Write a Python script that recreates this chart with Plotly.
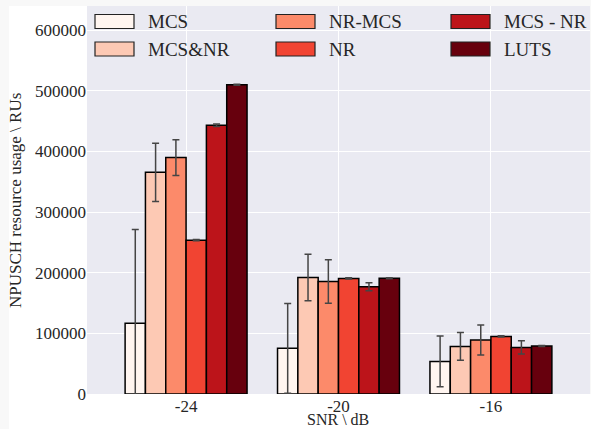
import plotly.graph_objects as go

categories = ["-24", "-20", "-16"]
series_names = ["MCS", "MCS&NR", "NR-MCS", "NR", "MCS - NR", "LUTS"]
colors = ["#fff5f0", "#fdc9b4", "#fc8a6a", "#f14432", "#bc141a", "#67000d"]

mcs = [116500, 75300, 53800]
mcs_nr = [365700, 192200, 78500]
nr_mcs = [390000, 185600, 89000]
nr = [253700, 190600, 95000]
mcs_minus_nr = [443200, 176800, 76900]
luts = [510200, 191100, 79100]

mcs_err = [155000, 74000, 42000]
mcs_nr_err = [48000, 38500, 23000]
nr_mcs_err = [29500, 36000, 24700]
nr_err = [1000, 1000, 1000]
mcs_minus_nr_err = [2000, 6600, 11000]
luts_err = [800, 800, 800]

y_ticks = [0, 100000, 200000, 300000, 400000, 500000, 600000]
y_ticklabels = ["0", "100000", "200000", "300000", "400000", "500000", "600000"]
x_title = "SNR \\ dB"
y_title = "NPUSCH resource usage \\ RUs"

values = [mcs, mcs_nr, nr_mcs, nr, mcs_minus_nr, luts]
errors = [mcs_err, mcs_nr_err, nr_mcs_err, nr_err, mcs_minus_nr_err, luts_err]

FONT = "Liberation Serif"
TXT = "#262626"

fig = go.Figure()
for name, col, v, e in zip(series_names, colors, values, errors):
    fig.add_trace(go.Bar(
        x=categories, y=v, name=name,
        marker=dict(color=col, line=dict(color="black", width=1.5)),
        error_y=dict(type="data", array=e, color="#454545", thickness=1.5, width=3.5),
        showlegend=False,
    ))

W, H = 591, 429
L, R, T, B = 87, 1, 6, 35
pw, ph = W - L - R, H - T - B

def px2paper(x, y):
    return (x - L) / pw, (H - B - y) / ph

shapes = []
annotations = []

# white figure area (reference has a light grey strip at left/top edges)
for (ax0, ay0, ax1, ay1) in [(9, 6, L, H), (9, H - B, W, H)]:
    x0p, y0p = px2paper(ax0, ay0)
    x1p, y1p = px2paper(ax1, ay1)
    shapes.append(dict(type="rect", xref="paper", yref="paper", x0=x0p, x1=x1p, y0=y1p, y1=y0p,
                       fillcolor="white", line=dict(width=0), layer="below"))

# custom legend (matplotlib-like wide patches), 3 columns x 2 rows
leg_order = [0, 2, 4, 1, 3, 5]
col_patch_x = [95, 276, 451]
row_y = [21.5, 49]
for i, idx in enumerate(leg_order):
    r, c = divmod(i, 3)
    x0p, y0p = px2paper(col_patch_x[c], row_y[r] - 7)
    x1p, y1p = px2paper(col_patch_x[c] + 39, row_y[r] + 7)
    shapes.append(dict(type="rect", xref="paper", yref="paper", x0=x0p, x1=x1p, y0=y1p, y1=y0p,
                       fillcolor=colors[idx], line=dict(color="#222222", width=1.2)))
    tx, ty = px2paper(col_patch_x[c] + 51, row_y[r])
    annotations.append(dict(xref="paper", yref="paper", x=tx, y=ty, xanchor="left", yanchor="middle",
                            text=series_names[idx], showarrow=False,
                            font=dict(family=FONT, size=19, color=TXT)))

# axis titles
tx, ty = px2paper(338, 429)
annotations.append(dict(xref="paper", yref="paper", x=tx, y=ty, xanchor="center", yanchor="bottom",
                        text=x_title, showarrow=False, borderpad=0,
                        font=dict(family=FONT, size=16, color=TXT)))
tx, ty = px2paper(15, 201)
annotations.append(dict(xref="paper", yref="paper", x=tx, y=ty, xanchor="center", yanchor="middle",
                        text=y_title, textangle=-90, showarrow=False,
                        font=dict(family=FONT, size=17, color=TXT)))

fig.update_layout(
    width=W, height=H,
    margin=dict(l=L, r=R, t=T, b=B, autoexpand=False),
    paper_bgcolor="#f8f8f8",
    plot_bgcolor="#eaeaf2",
    barmode="group", bargap=0.2, bargroupgap=0,
    font=dict(family=FONT, size=17, color=TXT),
    shapes=shapes,
    annotations=annotations,
    xaxis=dict(
        type="category", range=[-0.65, 2.65], automargin=False,
        showgrid=True, gridcolor="white", gridwidth=1,
        ticks="", tickfont=dict(family=FONT, size=17, color=TXT),
        zeroline=False, showline=False,
    ),
    yaxis=dict(
        range=[0, 640000], tickvals=y_ticks, ticktext=y_ticklabels, automargin=False,
        showgrid=True, gridcolor="white", gridwidth=1,
        ticks="", tickfont=dict(family=FONT, size=17, color=TXT),
        zeroline=False, showline=False,
    ),
)

fig.write_html("out.html", config={"displayModeBar": False},
               post_script="document.body.style.margin='0';document.body.style.padding='0';")
